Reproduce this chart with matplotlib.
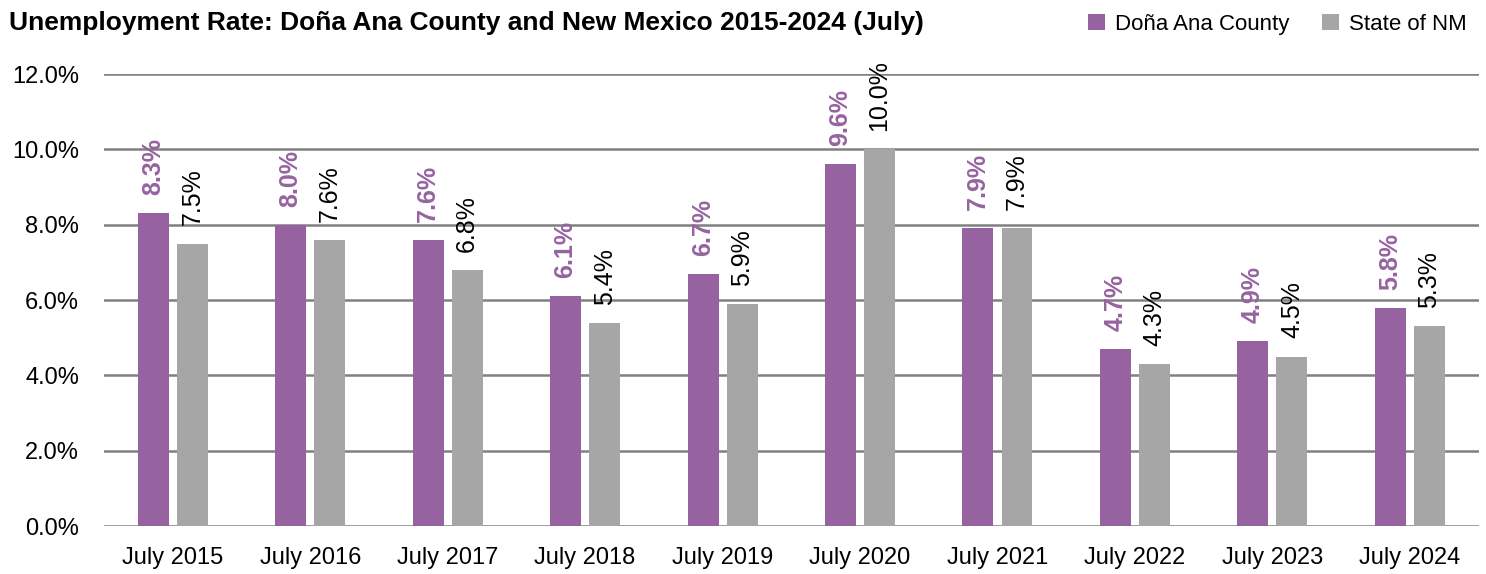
import numpy as np
import matplotlib.pyplot as plt
from matplotlib.ticker import FuncFormatter

plt.rcParams['font.family'] = ['Liberation Sans Narrow', 'Liberation Sans', 'DejaVu Sans']

years = ['July 2015', 'July 2016', 'July 2017', 'July 2018', 'July 2019',
         'July 2020', 'July 2021', 'July 2022', 'July 2023', 'July 2024']
dona_ana = [8.3, 8.0, 7.6, 6.1, 6.7, 9.6, 7.9, 4.7, 4.9, 5.8]
state_nm = [7.5, 7.6, 6.8, 5.4, 5.9, 10.0, 7.9, 4.3, 4.5, 5.3]

purple = '#9663A0'
grey = '#A6A6A6'

fig = plt.figure(figsize=(14.86, 5.74), dpi=100)
ax = fig.add_axes([0.070, 0.0836, 0.925, 0.7874])

x = np.arange(len(years))
w = 0.225
off = 0.142
ax.bar(x - off, dona_ana, w, color=purple, label='Doña Ana County', zorder=3)
ax.bar(x + off, state_nm, w, color=grey, label='State of NM', zorder=3)

# etiquetas verticales sobre cada barra
for xi, v in zip(x, dona_ana):
    ax.annotate(f'{v:.1f}%', (xi - off, v), xytext=(0, 13), textcoords='offset points',
                rotation=90, ha='center', va='bottom', color=purple,
                fontsize=18, fontweight='bold')
for xi, v in zip(x, state_nm):
    ax.annotate(f'{v:.1f}%', (xi + off, v), xytext=(0, 13), textcoords='offset points',
                rotation=90, ha='center', va='bottom', color='black', fontsize=18)

ax.set_xlim(-0.5, len(years) - 0.5)
ax.set_ylim(0, 12)
ax.set_yticks(np.arange(0, 12.1, 2))
ax.yaxis.set_major_formatter(FuncFormatter(lambda v, p: f'{v:.1f}%'))
ax.set_xticks(x)
ax.set_xticklabels(years)
ax.tick_params(axis='both', length=0, labelsize=17)
ax.tick_params(axis='y', pad=18)
ax.tick_params(axis='x', pad=15)
ax.grid(axis='y', color='#808080', linewidth=1.8, zorder=0)
for s in ax.spines.values():
    s.set_visible(False)

fig.text(0.006, 0.96, 'Unemployment Rate: Doña Ana County and New Mexico 2015-2024 (July)',
         fontsize=19, fontweight='bold', ha='left', va='center')
fig.legend(loc='center right', bbox_to_anchor=(0.996, 0.958), ncol=2, frameon=False,
           fontsize=16, handlelength=0.75, handleheight=0.75, handletextpad=0.45,
           columnspacing=1.5, borderaxespad=0.2)

fig.savefig('out.png', dpi=100)
